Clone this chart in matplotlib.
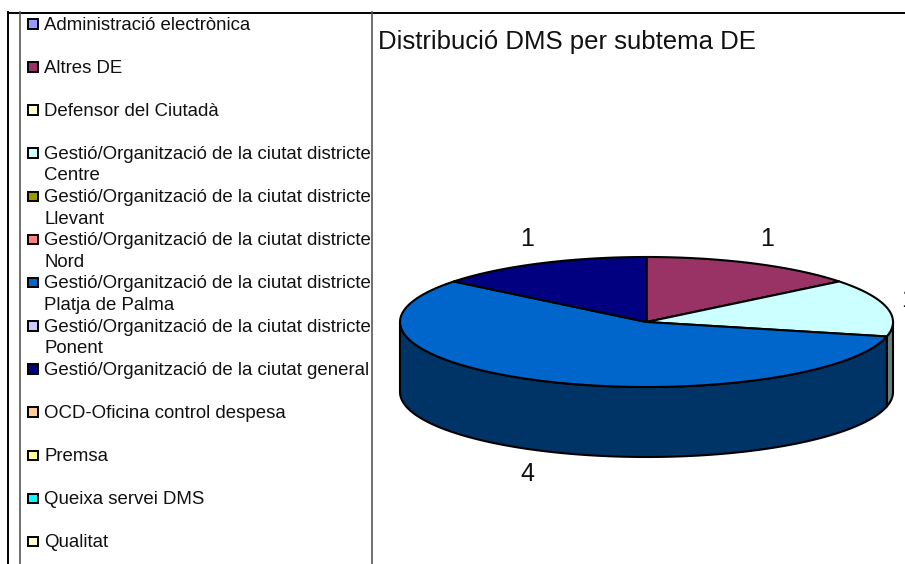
import numpy as np
import matplotlib
matplotlib.use('Agg')
import matplotlib.pyplot as plt
from matplotlib.colors import to_rgb

plt.rcParams['font.family'] = ['Liberation Sans', 'DejaVu Sans']

# Chart data
title = 'Distribució DMS per subtema DE'
categories = [
    'Administració electrònica',
    'Altres DE',
    'Defensor del Ciutadà',
    'Gestió/Organització de la ciutat districte\nCentre',
    'Gestió/Organització de la ciutat districte\nLlevant',
    'Gestió/Organització de la ciutat districte\nNord',
    'Gestió/Organització de la ciutat districte\nPlatja de Palma',
    'Gestió/Organització de la ciutat districte\nPonent',
    'Gestió/Organització de la ciutat general',
    'OCD-Oficina control despesa',
    'Premsa',
    'Queixa servei DMS',
    'Qualitat',
]
values = [0, 1, 0, 1, 0, 0, 4, 0, 1, 0, 0, 0, 0]
colors = ['#9999FF', '#993366', '#FFFFCC', '#CCFFFF', '#999900', '#FF8080', '#0066CC',
          '#CCCCFF', '#000080', '#FFCC99', '#FFFF99', '#00FFFF', '#FFFFCC']

# Pie geometry in image pixels
cx, cy = 646.5, 322
rx, ry = 246.5, 65
depth = 70

# Where the value labels sit, one per non-zero slice
label_pos = [(767, 239), (908, 300), (527, 474), (527, 239)]

fig = plt.figure(figsize=(9.05, 5.64), dpi=100)
ax = fig.add_axes([0, 0, 1, 1])
ax.set_xlim(0, 905)
ax.set_ylim(564, 0)
ax.axis('off')

# Table borders behind the chart
ax.plot([8, 905], [12.5, 12.5], color='black', lw=1.4)
ax.plot([8, 8], [12, 564], color='black', lw=1.4)
ax.plot([20, 20], [12, 564], color='#555555', lw=1.2)
ax.plot([372, 372], [12, 564], color='#555555', lw=1.2)

ax.text(378, 42, title, fontsize=18.5, va='center', ha='left', color='#111111')


def arc(t1, t2, dy=0):
    t = np.radians(np.linspace(t1, t2, 120))
    return cx + rx * np.cos(t), cy - ry * np.sin(t) + dy


# Slices go clockwise from twelve o'clock
total = sum(values)
start = 90.0
slices = []
for v, c in zip(values, colors):
    if v > 0:
        slices.append((start, start - 360.0 * v / total, c))
        start -= 360.0 * v / total

# Outer wall of the pie, only the front half shows
for t1, t2, c in slices:
    hi, lo = min(t1, 0), max(t2, -180)
    if hi > lo:
        x1, y1 = arc(hi, lo)
        x2, y2 = arc(lo, hi, depth)
        dark = tuple(0.5 * p for p in to_rgb(c))
        ax.fill(np.r_[x1, x2], np.r_[y1, y2], facecolor=dark, edgecolor='black', lw=1.5, joinstyle='round')

# Top faces
for t1, t2, c in slices:
    x, y = arc(t1, t2)
    ax.fill(np.r_[cx, x], np.r_[cy, y], facecolor=c, edgecolor='black', lw=1.5, joinstyle='round')

# Value labels
shown = [v for v in values if v > 0]
for v, (lx, ly) in zip(shown, label_pos):
    ax.text(lx, ly, str(v), fontsize=18, ha='center', va='center', color='#111111')

# Legend column
for i, (name, c) in enumerate(zip(categories, colors)):
    ys = 23.5 + i * 43.15
    ax.fill([28, 38, 38, 28], [ys - 4.5, ys - 4.5, ys + 5, ys + 5], facecolor=c, edgecolor='black', lw=1.4)
    for j, line in enumerate(name.split('\n')):
        ax.text(44, ys + 6 + j * 21.5, line, fontsize=13.4, ha='left', va='baseline', color='#111111')

fig.savefig('out.png', dpi=100)
